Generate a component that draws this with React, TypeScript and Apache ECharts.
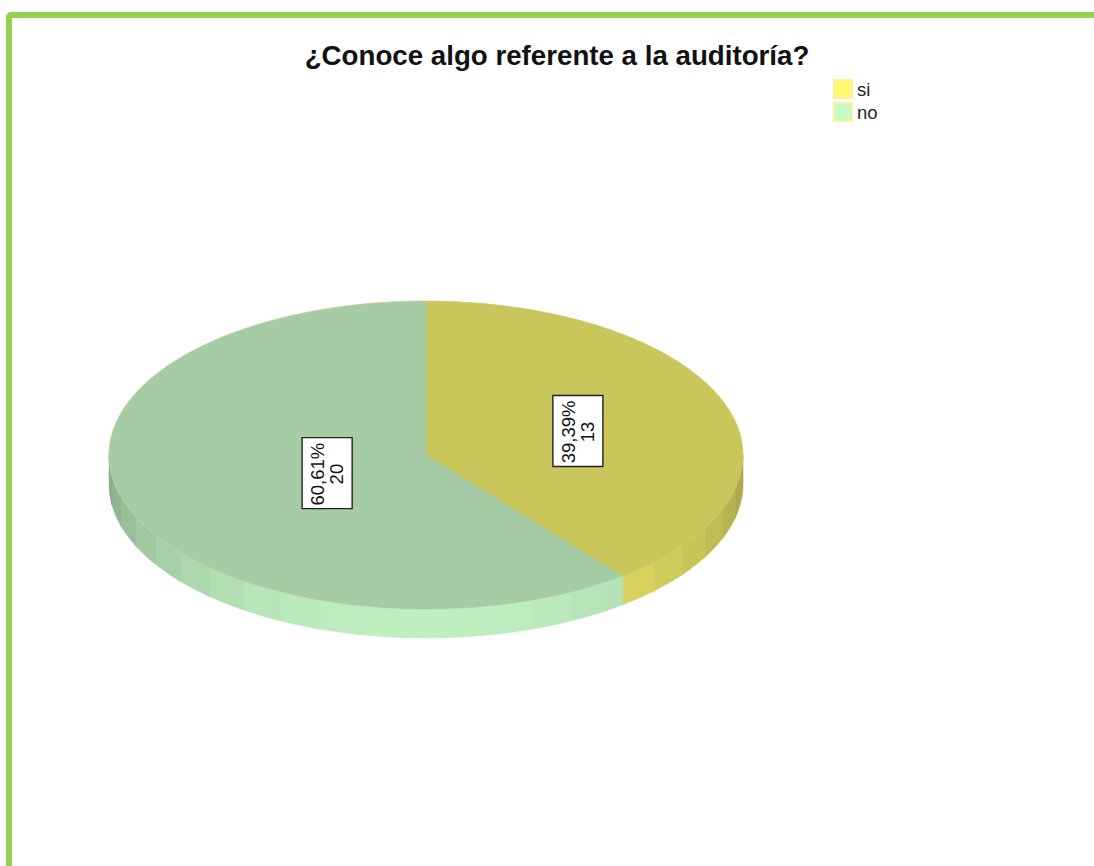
import React, { useEffect, useRef } from "react";
import * as echarts from "echarts";

const TITLE = "¿Conoce algo referente a la auditoría?";
const categories = ["si", "no"];
const counts = [13, 20];
const percentLabels = ["39,39%", "60,61%"];
const legendColors = ["#FFF870", "#C6FBC8"];
const topColors = ["#C9C65B", "#A5CCA4"];
const sideColors = [[240, 235, 105], [197, 246, 198]];
const labelRadius = [0.507, 0.33];

const CX = 426;
const CY = 455;
const RX = 317;
const RY = 154;
const DEPTH = 29;
const FACET = 7.8;
const FONT = "'Liberation Sans', Arial, sans-serif";

const total = counts.reduce((a, b) => a + b, 0);
const pt = (deg: number, dy = 0): number[] => {
  const r = (deg * Math.PI) / 180;
  return [CX + RX * Math.sin(r), CY - RY * Math.cos(r) + dy];
};
const arc = (a: number, b: number, dy = 0): number[][] => {
  const n = Math.max(2, Math.ceil(Math.abs(b - a)));
  const out: number[][] = [];
  for (let i = 0; i <= n; i++) out.push(pt(a + ((b - a) * i) / n, dy));
  return out;
};

const makeRender = (index: number) => (_params: any, api: any) => {
  const before = counts.slice(0, index).reduce((a, b) => a + b, 0);
  const start = (before / total) * 360;
  const end = start + (api.value(0) / total) * 360;
  const children: any[] = [];

  // side wall: only the front half (90..270 degrees) is visible
  const wallStart = Math.max(start, 90);
  const wallEnd = Math.min(end, 270);
  const facetEdges: number[] = [];
  for (let a = wallEnd; a > wallStart; a -= FACET) facetEdges.unshift(a);
  facetEdges.unshift(wallStart);
  for (let i = 0; i < facetEdges.length - 1; i++) {
    const a = facetEdges[i];
    const b = facetEdges[i + 1];
    const mid = (((a + b) / 2) * Math.PI) / 180;
    const f = 0.68 + 0.29 * Math.abs(Math.cos(mid));
    const c = sideColors[index].map((v) => Math.round(v * f));
    const col = `rgb(${c[0]},${c[1]},${c[2]})`;
    children.push({
      type: "polygon",
      shape: { points: [...arc(a - 0.2, b + 0.2, 0), ...arc(b + 0.2, a - 0.2, DEPTH)] },
      style: { fill: col, stroke: col, lineWidth: 0.5 },
    });
  }

  // top face
  children.push({
    type: "polygon",
    shape: { points: [[CX, CY], ...arc(start, end)] },
    style: { fill: topColors[index], stroke: topColors[index], lineWidth: 0.5 },
  });
  if (index === 1) {
    children.push({
      type: "polyline",
      shape: { points: arc(start + 60, end) },
      style: { fill: "none", stroke: "#D9D27C", lineWidth: 0.7, opacity: 0.6 },
    });
  }

  // rotated value label
  const mid = (start + end) / 2;
  const r = (mid * Math.PI) / 180;
  const lx = CX + labelRadius[index] * RX * Math.sin(r);
  const ly = CY - labelRadius[index] * RY * Math.cos(r) + 1.5;
  children.push({
    type: "rect",
    shape: { x: lx - 25, y: ly - 35.5, width: 50, height: 71 },
    style: { fill: "#FFFFFF", stroke: "#222222", lineWidth: 1.4 },
  });
  children.push({
    type: "text",
    x: lx,
    y: ly + 1,
    rotation: Math.PI / 2,
    style: {
      text: `${percentLabels[index]}\n${api.value(0)}`,
      font: `18.5px ${FONT}`,
      fill: "#111111",
      align: "center",
      verticalAlign: "middle",
      lineHeight: 19,
    },
  });
  return { type: "group", children };
};

export default function App() {
  const ref = useRef<HTMLDivElement>(null);
  useEffect(() => {
    const chart = echarts.init(ref.current as HTMLDivElement, undefined, { renderer: "svg" });
    chart.setOption({
      animation: false,
      backgroundColor: "#FFFFFF",
      title: {
        text: TITLE,
        left: 552,
        top: 36,
        textAlign: "center",
        textStyle: { fontFamily: FONT, fontSize: 27.7, fontWeight: "bold", color: "#111111" },
      },
      legend: {
        orient: "vertical",
        left: 833,
        top: 79,
        padding: 0,
        itemWidth: 18,
        itemHeight: 18,
        itemGap: 3,
        icon: "rect",
        selectedMode: false,
        textStyle: { fontFamily: FONT, fontSize: 18.5, color: "#222222", padding: [2, 0, 0, 0] },
        data: categories.map((name) => ({ name })),
      },
      graphic: [
        {
          type: "rect",
          shape: { x: 9, y: 15, width: 1200, height: 1000, r: 2 },
          style: { fill: "none", stroke: "#8FD350", lineWidth: 6 },
          silent: true,
        },
      ],
      series: categories.map((name, i) => ({
        type: "custom",
        name,
        coordinateSystem: "none",
        silent: true,
        itemStyle: { color: legendColors[i], borderColor: "#FBF39A", borderWidth: 1 },
        renderItem: makeRender(i),
        data: [[counts[i]]],
      })),
    });
    return () => chart.dispose();
  }, []);
  return <div ref={ref} style={{ position: "fixed", left: 0, top: 0, width: 1094, height: 866 }} />;
}
